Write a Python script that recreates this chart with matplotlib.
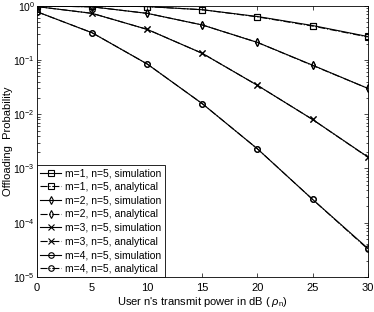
import numpy as np
import matplotlib
matplotlib.use("Agg")
import matplotlib.pyplot as plt

plt.rcParams['font.family'] = ['Liberation Sans', 'DejaVu Sans']
plt.rcParams['mathtext.fontset'] = 'custom'
plt.rcParams['mathtext.it'] = 'Liberation Sans:italic'
plt.rcParams['mathtext.rm'] = 'Liberation Sans'

# transmit power in dB
power_db = [0, 5, 10, 15, 20, 25, 30]

# offloading probability
m1_sim = [1.0, 0.99, 0.96, 0.84, 0.63, 0.43, 0.27]
m1_ana = [1.0, 0.99, 0.96, 0.84, 0.62, 0.42, 0.265]
m2_sim = [0.99, 0.95, 0.72, 0.44, 0.21, 0.080, 0.030]
m2_ana = [0.99, 0.95, 0.72, 0.44, 0.21, 0.079, 0.030]
m3_sim = [0.96, 0.72, 0.365, 0.132, 0.034, 0.0080, 0.00164]
m3_ana = [0.96, 0.72, 0.365, 0.132, 0.034, 0.0080, 0.00162]
m4_sim = [0.77, 0.316, 0.084, 0.0156, 0.0023, 0.00027, 3.4e-5]
m4_ana = [0.77, 0.316, 0.084, 0.0156, 0.0023, 0.00027, 3.3e-5]

series = [
    ('m=1, n=5, simulation', m1_sim, '-', 's'),
    ('m=1, n=5, analytical', m1_ana, '-.', 's'),
    ('m=2, n=5, simulation', m2_sim, '-', 'd'),
    ('m=2, n=5, analytical', m2_ana, '-.', 'd'),
    ('m=3, n=5, simulation', m3_sim, '-', 'x'),
    ('m=3, n=5, analytical', m3_ana, '-.', 'x'),
    ('m=4, n=5, simulation', m4_sim, '-', 'o'),
    ('m=4, n=5, analytical', m4_ana, '-.', 'o'),
]

fig = plt.figure(figsize=(3.74, 3.12), dpi=100)
ax = fig.add_axes([0.099, 0.112, 0.884, 0.870])

for label, vals, ls, mk in series:
    ax.semilogy(power_db, vals, linestyle=ls, marker=mk, color='black',
                markerfacecolor='none', markeredgecolor='black',
                markersize=4, markeredgewidth=0.8, linewidth=0.8, label=label)

ax.set_xlim(0, 30)
ax.set_ylim(1e-5, 1)
ax.set_xticks([0, 5, 10, 15, 20, 25, 30])
ax.tick_params(which='both', direction='in', top=True, right=True, labelsize=8)
ax.tick_params(axis='y', which='major', labelsize=7.5, pad=1.5)
ax.tick_params(which='major', length=3, width=0.5)
ax.tick_params(axis='x', which='major', pad=4)
ax.tick_params(which='minor', length=1.8, width=0.5)
for sp in ax.spines.values():
    sp.set_linewidth(0.6)

ax.set_xlabel("User n's transmit power in dB ( $\\rho_\\mathrm{n}$)", fontsize=8, labelpad=2)
ax.set_ylabel("Offloading  Probability", fontsize=8, va='center')
ax.yaxis.set_label_coords(-0.088, 0.5)

leg = ax.legend(loc='lower left', fontsize=7.5, fancybox=False, framealpha=1,
                edgecolor='black', borderaxespad=0, handlelength=2.0,
                handletextpad=0.4, labelspacing=0.35, borderpad=0.3)
leg.get_frame().set_linewidth(0.6)

fig.savefig('out.png', dpi=100)
